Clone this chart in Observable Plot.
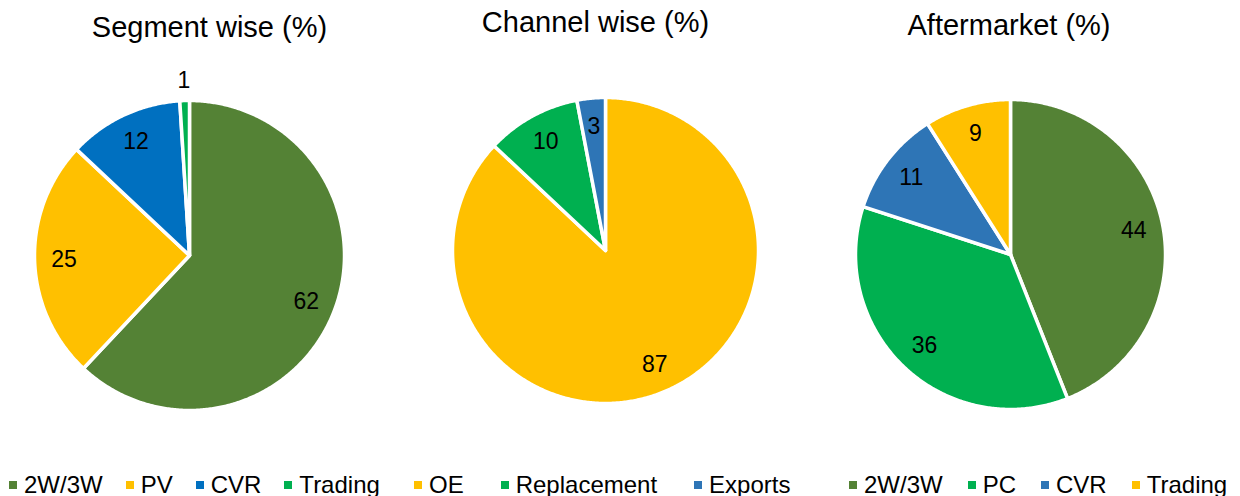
<!DOCTYPE html>
<html><head><meta charset="utf-8">
<script src="https://cdn.jsdelivr.net/npm/d3@7"></script>
<script src="https://cdn.jsdelivr.net/npm/@observablehq/plot@0.6"></script>
<style>
body{margin:0;background:#fff;font-family:"Liberation Sans",Arial,sans-serif;}
#root{position:relative;width:1240px;height:496px;overflow:hidden;background:#fff;}
.title{position:absolute;font-size:29px;color:#000;transform:translate(-50%,-50%);white-space:nowrap;}
.legend{position:absolute;display:flex;align-items:center;font-size:24px;line-height:28px;height:28px;white-space:nowrap;color:#000;}
.sw{width:8px;height:8px;margin-right:7px;flex:none;}
.pie{position:absolute;}
</style></head><body><div id="root"></div>
<script>
// ---- data ----
const segmentTitle = "Segment wise (%)";
const segmentCats = ["2W/3W", "PV", "CVR", "Trading"];
const segmentValues = [62, 25, 12, 1];
const segmentColors = ["#548235", "#FFC000", "#0070C0", "#00B050"];

const channelTitle = "Channel wise (%)";
const channelCats = ["OE", "Replacement", "Exports"];
const channelValues = [87, 10, 3];
const channelColors = ["#FFC000", "#00B050", "#2E75B6"];

const afterTitle = "Aftermarket (%)";
const afterCats = ["2W/3W", "PC", "CVR", "Trading"];
const afterValues = [44, 36, 11, 9];
const afterColors = ["#548235", "#00B050", "#2E75B6", "#FFC000"];

// ---- layout ----
const root = document.getElementById("root");
const panels = [
  {title: segmentTitle, cats: segmentCats, values: segmentValues, colors: segmentColors,
   cx: 188.5, cy: 254.5, r: 155, tx: 209.5, ty: 27, lx: 9, gap: 23},
  {title: channelTitle, cats: channelCats, values: channelValues, colors: channelColors,
   cx: 604.5, cy: 249.5, r: 153, tx: 595.5, ty: 22, lx: 414, gap: 37},
  {title: afterTitle, cats: afterCats, values: afterValues, colors: afterColors,
   cx: 1009.5, cy: 253.5, r: 155, tx: 1009, ty: 25, lx: 849, gap: 25}
];

const S = 400;
for (const p of panels) {
  const arcs = d3.pie().sort(null).value(d => d.value)(p.cats.map((c, i) => ({cat: c, value: p.values[i]})));
  const pts = [];
  const labels = [];
  for (const a of arcs) {
    const n = Math.max(4, Math.ceil((a.endAngle - a.startAngle) / (Math.PI / 360)));
    pts.push({cat: a.data.cat, x: 0, y: 0});
    for (let k = 0; k <= n; k++) {
      const t = a.startAngle + (a.endAngle - a.startAngle) * k / n;
      pts.push({cat: a.data.cat, x: Math.sin(t), y: -Math.cos(t)});
    }
    pts.push({cat: a.data.cat, x: 0, y: 0});
    const m = (a.startAngle + a.endAngle) / 2;
    const lr = a.data.value < 2 ? 1.13 : 0.81;
    labels.push({x: lr * Math.sin(m), y: -lr * Math.cos(m), text: String(a.data.value)});
  }
  const chart = Plot.plot({
    width: S, height: S, margin: 0,
    x: {domain: [-1, 1], range: [S / 2 - p.r, S / 2 + p.r], axis: null},
    y: {domain: [-1, 1], range: [S / 2 - p.r, S / 2 + p.r], axis: null},
    color: {type: "ordinal", domain: p.cats, range: p.colors},
    style: {background: "transparent", overflow: "visible"},
    marks: [
      Plot.line(pts, {x: "x", y: "y", z: "cat", fill: "cat", stroke: "white", strokeWidth: 3.5, strokeLinejoin: "miter", strokeMiterlimit: 2}),
      Plot.text(labels, {x: "x", y: "y", text: "text", fontSize: 23, fill: "black", fontFamily: "Liberation Sans, Arial, sans-serif"})
    ]
  });
  const holder = document.createElement("div");
  holder.className = "pie";
  holder.style.left = (p.cx - S / 2) + "px";
  holder.style.top = (p.cy - S / 2) + "px";
  holder.appendChild(chart);
  root.appendChild(holder);

  const t = document.createElement("div");
  t.className = "title";
  t.style.left = p.tx + "px";
  t.style.top = p.ty + "px";
  t.textContent = p.title;
  root.appendChild(t);

  const lg = document.createElement("div");
  lg.className = "legend";
  lg.style.left = p.lx + "px";
  lg.style.top = "471px";
  p.cats.forEach((c, i) => {
    const sw = document.createElement("span");
    sw.className = "sw";
    sw.style.background = p.colors[i];
    const tx = document.createElement("span");
    tx.textContent = c;
    if (i < p.cats.length - 1) tx.style.marginRight = p.gap + "px";
    lg.appendChild(sw);
    lg.appendChild(tx);
  });
  root.appendChild(lg);
}
</script>
</body></html>
